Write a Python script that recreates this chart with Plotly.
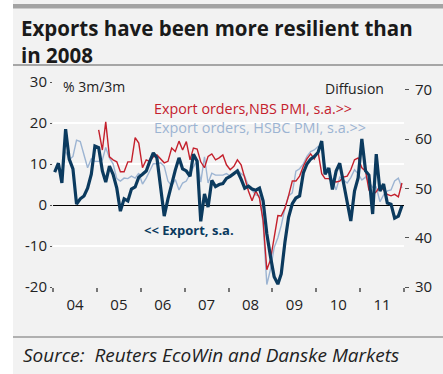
import pandas as pd
import plotly.graph_objects as go

# ---------------- data ----------------
months = pd.date_range("2004-01-01", "2011-12-01", freq="MS") + pd.Timedelta(days=14)

export_sa = [
    8.0, 10.2, 5.4, 18.5, 11.2, 8.8, 0.2, 1.5, 2.2, 4.1, 7.5, 14.4,        # 2004
    14.0, 8.3, 5.6, 9.5, 7.5, 4.1, -1.5, 1.5, 1.0, 3.9, 4.4, 6.8,        # 2005
    7.5, 8.3, 10.5, 12.7, 11.5, 4.5, -2.7, 1.5, 5.5, 8.5, 11.5, 8.8,     # 2006
    8.3, 7.0, 12.4, 10.7, -4.0, 2.7, -0.5, 6.0, 4.5, 5.0, 5.2, 6.5,      # 2007
    7.0, 7.8, 8.3, 6.3, 4.1, 4.6, 3.9, 3.6, 4.1, 1.0, -7.0, -12.5,       # 2008
    -17.5, -19.3, -16.8, -9.0, -3.0, 0.3, 1.7, 2.2, 7.8, 10.0, 11.2, 11.8,  # 2009
    12.8, 15.6, 7.5, 9.0, 3.8, 8.3, 10.2, 5.5, 1.0, -3.9, 3.4, 6.6,      # 2010
    16.1, 8.3, 7.3, -2.2, 12.4, 3.4, 5.1, 0.5, 0.2, -3.2, -2.7, -0.2,    # 2011
]

nbs_start = 12   # NBS series starts Jan 2005
nbs_orders = [
    61.9, 57.8, 63.5, 56.4, 55.8, 55.4, 53.4, 53.4, 55.4, 55.4, 60.3, 59.2,  # 2005
    54.2, 55.8, 55.5, 56.4, 56.8, 56.0, 55.2, 55.5, 58.2, 57.5, 59.6, 57.8,  # 2006
    59.5, 55.8, 58.2, 58.0, 55.4, 54.2, 56.5, 57.0, 55.8, 56.2, 56.8, 54.8,  # 2007
    53.8, 54.5, 55.8, 54.8, 52.1, 49.5, 47.5, 49.5, 48.0, 43.5, 33.5, 35.5,  # 2008
    40.0, 44.5, 44.4, 46.0, 48.5, 51.5, 51.5, 52.5, 54.5, 56.0, 57.0, 56.0,  # 2009
    57.5, 53.0, 52.0, 52.0, 51.5, 51.3, 51.5, 52.3, 52.5, 53.8, 55.8, 56.2,  # 2010
    54.2, 53.5, 49.7, 48.7, 49.3, 50.5, 49.7, 48.8, 48.5, 48.8, 48.3, 51.1,  # 2011
]

hsbc_start = 3   # HSBC series starts Apr 2004
hsbc_orders = [
    57.5, 55.8, 56.5, 59.8, 59.5, 57.0, 54.2, 56.0, 55.5,                    # 2004 (Apr-Dec)
    55.5, 55.8, 58.3, 56.2, 55.0, 52.0, 51.5, 52.1, 52.0, 52.5, 52.1, 53.1,  # 2005
    50.9, 52.1, 53.5, 55.0, 55.0, 55.2, 54.5, 51.5, 50.5, 51.8, 49.7, 51.1,  # 2006
    51.5, 53.1, 54.2, 55.8, 51.3, 56.4, 51.1, 53.1, 52.7, 52.7, 52.7, 53.0,  # 2007
    52.5, 52.8, 53.8, 53.0, 52.5, 50.5, 49.5, 48.7, 48.5, 43.0, 30.5, 33.5,  # 2008
    38.0, 40.0, 42.5, 46.0, 48.5, 49.1, 53.5, 54.0, 55.0, 56.5, 57.5, 57.8,  # 2009
    58.5, 58.0, 54.5, 53.5, 51.7, 49.7, 52.3, 51.7, 51.1, 52.2, 53.8, 53.0,  # 2010
    51.7, 52.3, 51.3, 50.2, 50.3, 47.3, 48.7, 49.5, 49.7, 51.5, 52.1, 50.1,  # 2011
]

left_ticks = [-20, -10, 0, 10, 20, 30]
left_labels = ["-20", "-10", "0", "10", "20", "30"]
right_ticks = [30, 40, 50, 60, 70]

# ---------------- style ----------------
NAVY = "#0b3a5e"
RED = "#c4202c"
LBLUE = "#9cb4d2"
BG = "#f2f2f2"
FONT = "Open Sans"
TXT = "#222222"

W, H = 443, 374
L, R, T, B = 53, 404, 82, 287


def px(x):
    return (x - L) / (R - L)


def py(y):
    return (B - y) / (B - T)


fig = go.Figure()
fig.add_trace(go.Scatter(x=months[hsbc_start:], y=hsbc_orders, mode="lines",
                         line=dict(color=LBLUE, width=1.4), yaxis="y", showlegend=False))
fig.add_trace(go.Scatter(x=months[nbs_start:], y=nbs_orders, mode="lines",
                         line=dict(color=RED, width=1.4), yaxis="y", showlegend=False))
fig.add_trace(go.Scatter(x=months, y=export_sa, mode="lines",
                         line=dict(color=NAVY, width=3.2), yaxis="y2", showlegend=False))

fig.update_layout(
    width=W, height=H,
    margin=dict(l=L, r=W - R, t=T, b=H - B, pad=0),
    paper_bgcolor=BG, plot_bgcolor=BG,
    font=dict(family=FONT, color=TXT, size=14),
    xaxis=dict(type="date", range=["2004-01-01", "2012-01-01"],
               tick0="2004-01-01", dtick="M12", tickformat="%y", ticklabelmode="period",
               ticks="outside", ticklen=4, tickwidth=1.5, tickcolor="#777777",
               showgrid=False, showline=False, zeroline=False,
               tickfont=dict(size=15, color=TXT)),
    yaxis=dict(side="right", range=[30, 71.6], tickvals=right_ticks,
               ticks="outside", ticklen=4, tickcolor="#555555", ticklabelstandoff=3,
               showgrid=False, zeroline=False, showline=False,
               tickfont=dict(size=15, color=TXT)),
    yaxis2=dict(side="left", overlaying="y", range=[-20, 30],
                tickvals=left_ticks, ticktext=left_labels,
                ticks="outside", ticklen=2, tickcolor="#555555",
                showgrid=True, gridcolor="white", gridwidth=2,
                zeroline=True, zerolinecolor="black", zerolinewidth=1.2,
                showline=False, tickfont=dict(size=15, color=TXT)),
)

shapes = [
    # white strip at far left
    dict(type="rect", xref="paper", yref="paper", x0=px(-5), x1=px(13), y0=py(-5), y1=py(H + 5),
         fillcolor="white", line=dict(width=0), layer="above"),
    # top grey bar
    dict(type="rect", xref="paper", yref="paper", x0=px(13), x1=px(W + 5), y0=py(8.5), y1=py(4),
         fillcolor="#a3a3a3", line=dict(width=0)),
    # title separator
    dict(type="line", xref="paper", yref="paper", x0=px(13), x1=px(W + 5), y0=py(65), y1=py(65),
         line=dict(color="#8c8c8c", width=1.5)),
    # source separator
    dict(type="line", xref="paper", yref="paper", x0=px(13), x1=px(W + 5), y0=py(337), y1=py(337),
         line=dict(color="#9a9a9a", width=1.5)),
]
fig.update_layout(shapes=shapes)

ann = [
    dict(text="<b>Exports have been more resilient than<br>in 2008</b>", x=px(19), y=py(12),
         xanchor="left", yanchor="top", align="left", font=dict(size=20.5, color="#1a1a1a")),
    dict(text="% 3m/3m", x=px(61), y=py(86), xanchor="left", yanchor="middle",
         font=dict(size=14, color=TXT)),
    dict(text="Diffusion", x=px(386), y=py(88), xanchor="right", yanchor="middle",
         font=dict(size=14, color=TXT)),
    dict(text="Export orders,NBS PMI, s.a.>>", x=px(152), y=py(108), xanchor="left", yanchor="middle",
         font=dict(size=14.3, color=RED)),
    dict(text="Export orders, HSBC PMI, s.a.>>", x=px(152), y=py(127), xanchor="left", yanchor="middle",
         font=dict(size=14.4, color=LBLUE)),
    dict(text="<b><< Export, s.a.</b>", x=px(142), y=py(230), xanchor="left", yanchor="middle",
         font=dict(size=13, color=NAVY)),
    dict(text="<i>Source:\u00a0 Reuters EcoWin and Danske Markets</i>", x=px(21), y=py(355),
         xanchor="left", yanchor="middle", font=dict(size=19, color=TXT)),
]
for a in ann:
    a.update(xref="paper", yref="paper", showarrow=False)
fig.update_layout(annotations=ann)

fig.write_html("out.html")
